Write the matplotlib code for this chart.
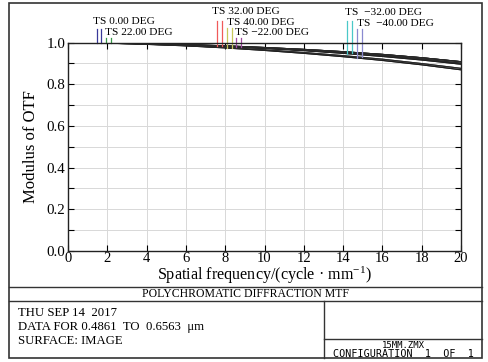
import numpy as np
import matplotlib
matplotlib.use('Agg')
import matplotlib.pyplot as plt
from matplotlib.lines import Line2D
from matplotlib.patches import Rectangle

plt.rcParams['font.family'] = ['Liberation Serif', 'DejaVu Serif']
plt.rcParams['mathtext.fontset'] = 'custom'
plt.rcParams['mathtext.rm'] = 'Liberation Serif'
plt.rcParams['mathtext.it'] = 'Liberation Serif:italic'

# ---------------- data ----------------
freq = [0, 2, 4, 6, 8, 10, 12, 14, 16, 18, 20]
mtf_a = [1.000, 0.998, 0.995, 0.990, 0.984, 0.976, 0.967, 0.956, 0.943, 0.927, 0.908]
mtf_b = [1.000, 0.998, 0.994, 0.989, 0.982, 0.973, 0.963, 0.951, 0.937, 0.920, 0.900]
mtf_c = [1.000, 0.998, 0.994, 0.988, 0.981, 0.972, 0.961, 0.948, 0.933, 0.916, 0.896]
mtf_d = [1.000, 0.997, 0.992, 0.985, 0.976, 0.965, 0.952, 0.937, 0.920, 0.899, 0.876]
mtf_e = [1.000, 0.997, 0.991, 0.984, 0.974, 0.962, 0.948, 0.932, 0.914, 0.893, 0.869]

field_labels = ['TS 0.00 DEG', 'TS 22.00 DEG', 'TS 32.00 DEG', 'TS 40.00 DEG',
                'TS \u221222.00 DEG', 'TS  \u221232.00 DEG', 'TS  \u221240.00 DEG']
tangential = [mtf_a, mtf_a, mtf_c, mtf_e, mtf_b, mtf_c, mtf_e]
sagittal = [mtf_a, mtf_b, mtf_b, mtf_d, mtf_a, mtf_b, mtf_d]
field_colors = ['#3a3a9a', '#3a9a4a', '#f05a5a', '#c8c85a', '#a04aa0', '#4ac8c8', '#8a8ad0']

# layout of the field labels / pointer marks (data coordinates)
label_x = [1.27, 1.88, 7.31, 8.08, 8.50, 14.10, 14.69]
label_y = [1.102, 1.046, 1.150, 1.097, 1.046, 1.145, 1.093]
mark_x = [(1.46, 1.66), (1.93, 2.17), (7.57, 7.82), (8.08, 8.33),
          (8.55, 8.82), (14.18, 14.43), (14.69, 14.94)]
mark_top = [1.065, 1.022, 1.103, 1.070, 1.022, 1.103, 1.065]

W, H = 488, 362
fig = plt.figure(figsize=(W / 100, H / 100), dpi=100)

def fx(px):
    return px / W

def fy(py):
    return 1 - py / H

ax = fig.add_axes([fx(68), fy(251), fx(461) - fx(68), fy(42.5) - fy(251)])
ax.set_xlim(0, 20)
ax.set_ylim(0, 1.0)
ax.set_xticks(np.arange(0, 21, 2))
ax.set_yticks(np.arange(0, 1.01, 0.2))
ax.set_yticks(np.arange(0, 1.01, 0.1), minor=True)
ax.set_yticklabels(['%.1f' % v for v in np.arange(0, 1.01, 0.2)])
ax.grid(True, which='both', color='#d8d8d8', lw=0.7)
ax.set_axisbelow(True)
ax.tick_params(which='both', direction='in', top=True, right=True, length=4,
               width=0.8, labelsize=10.8, pad=2)
ax.tick_params(axis='x', pad=1.0, labelsize=10.5)
for s in ax.spines.values():
    s.set_linewidth(1.0)
    s.set_color('#222222')

for t, s in zip(tangential, sagittal):
    ax.plot(freq, t, color='#1e1e1e', lw=0.8)
    ax.plot(freq, s, color='#2a2a2a', lw=0.8)

for lab, lx, ly, mx, mt, col, t, s in zip(field_labels, label_x, label_y, mark_x,
                                          mark_top, field_colors, tangential, sagittal):
    ax.text(lx, ly, lab, fontsize=8.2, ha='left', va='center', clip_on=False)
    for xm, curve in zip(mx, (t, s)):
        yb = np.interp(xm, freq, curve)
        ax.plot([xm, xm], [yb, mt], color=col, lw=0.9, clip_on=False)

ax.set_ylabel('Modulus of OTF', fontsize=12, labelpad=5)
ax.set_xlabel('Spatial frequency/(cycle \u00b7 mm$^{-1}$)', fontsize=11.6)
ax.xaxis.label.set_va('baseline')
ax.xaxis.set_label_coords(0.5, -0.14)

# ---------------- frame / title block ----------------
lc = '#333333'
fig.add_artist(Rectangle((fx(9), fy(358)), fx(482) - fx(9), fy(3) - fy(358),
                         transform=fig.transFigure, fill=False, lw=1.2, ec=lc))
for yy in (287, 301):
    fig.add_artist(Line2D([fx(9), fx(482)], [fy(yy), fy(yy)], transform=fig.transFigure,
                          color=lc, lw=1.0))
fig.add_artist(Line2D([fx(324), fx(324)], [fy(301), fy(358)], transform=fig.transFigure,
                      color=lc, lw=1.0))
fig.add_artist(Line2D([fx(324), fx(482)], [fy(339), fy(339)], transform=fig.transFigure,
                      color=lc, lw=1.0))

fig.text(fx(245.5), fy(294), 'POLYCHROMATIC DIFFRACTION MTF', fontsize=8.5,
         ha='center', va='center')
fig.text(fx(18), fy(313), 'THU SEP 14  2017', fontsize=9.2, ha='left', va='center')
fig.text(fx(18), fy(327), 'DATA FOR 0.4861  TO  0.6563  \u03bcm', fontsize=9.2,
         ha='left', va='center')
fig.text(fx(18), fy(341), 'SURFACE: IMAGE', fontsize=9.2, ha='left', va='center')
fig.text(fx(403), fy(346), '15MM.ZMX', fontsize=6.5, family='DejaVu Sans Mono',
         ha='center', va='center')
fig.text(fx(403), fy(354), 'CONFIGURATION  1  OF  1', fontsize=7.3,
         family='DejaVu Sans Mono', ha='center', va='center')

fig.savefig('out.png', dpi=100)
